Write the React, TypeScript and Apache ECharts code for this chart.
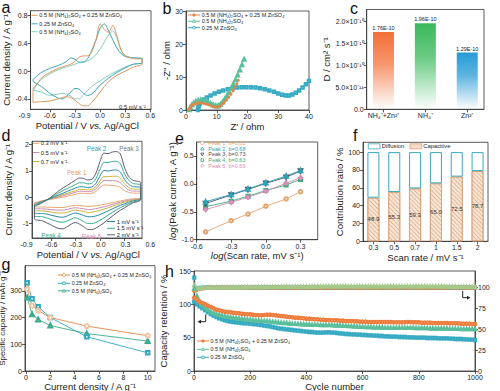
import React, { useEffect, useRef } from 'react';
import * as echarts from 'echarts';

const FONT = '"Liberation Sans", Arial, Helvetica, sans-serif';

// ---------------- Panel a : CV at 0.5 mV/s ----------------
const aUpV = [-0.8, -0.7, -0.6, -0.5, -0.4, -0.35, -0.3, -0.25, -0.2, -0.15, -0.1, -0.05, 0, 0.05, 0.1, 0.15, 0.2, 0.25, 0.3, 0.4, 0.5];
const aLoV = [0.5, 0.4, 0.3, 0.2, 0.1, 0.05, 0, -0.05, -0.1, -0.15, -0.2, -0.25, -0.3, -0.35, -0.4, -0.45, -0.5, -0.6, -0.7, -0.8];
const aMixUp = [-0.28, -0.1, -0.02, 0.04, 0.08, 0.1, 0.14, 0.2, 0.22, 0.22, 0.28, 0.45, 0.68, 0.6, 0.56, 0.66, 0.5, 0.3, 0.22, 0.18, 0.17];
const aMixLo = [0.1, 0.06, 0.0, -0.06, -0.15, -0.22, -0.3, -0.38, -0.45, -0.5, -0.5, -0.47, -0.42, -0.38, -0.37, -0.38, -0.4, -0.43, -0.44, -0.45];
const aZnUp = [-0.12, -0.02, 0.04, 0.08, 0.14, 0.19, 0.17, 0.13, 0.13, 0.18, 0.3, 0.45, 0.62, 0.68, 0.58, 0.45, 0.33, 0.25, 0.21, 0.19, 0.18];
const aZnLo = [0.12, 0.1, 0.05, -0.02, -0.1, -0.15, -0.2, -0.27, -0.33, -0.35, -0.32, -0.26, -0.25, -0.3, -0.36, -0.4, -0.39, -0.32, -0.22, -0.14];
const aNhUp = [-0.25, -0.12, -0.04, 0.02, 0.06, 0.08, 0.1, 0.12, 0.13, 0.15, 0.18, 0.24, 0.32, 0.42, 0.52, 0.58, 0.47, 0.3, 0.22, 0.19, 0.18];
const aNhLo = [0.12, 0.1, 0.06, 0.0, -0.06, -0.1, -0.14, -0.18, -0.22, -0.28, -0.34, -0.4, -0.4, -0.36, -0.33, -0.32, -0.33, -0.35, -0.3, -0.27];

// ---------------- Panel b : Nyquist ----------------
const bMixX = [0.9, 1.2, 1.6, 2.1, 2.7, 3.4, 4.1, 4.9, 5.7, 6.5, 7.3, 8.1, 8.9, 9.6, 10.2, 10.7, 11.2, 11.8, 12.5, 13.2, 13.9, 14.6, 15.3, 15.9, 16.5, 17.0];
const bMixY = [0.1, 0.6, 1.1, 1.5, 1.8, 2.0, 2.1, 2.1, 2.0, 1.8, 1.6, 1.3, 1.1, 0.9, 0.9, 1.0, 1.3, 1.8, 2.4, 3.1, 3.9, 4.8, 5.8, 6.8, 7.9, 9.0];
const bNhX = [1.0, 1.4, 1.9, 2.5, 3.2, 4.0, 4.8, 5.6, 6.4, 7.2, 8.0, 8.8, 9.5, 10.1, 10.6, 11.2, 11.9, 12.6, 13.3, 14.0, 14.7, 15.4, 16.1, 16.8, 17.5, 18.2, 18.9];
const bNhY = [0.1, 0.8, 1.5, 2.1, 2.6, 2.9, 3.0, 2.9, 2.7, 2.4, 2.0, 1.6, 1.3, 1.2, 1.3, 1.7, 2.4, 3.3, 4.3, 5.4, 6.6, 7.9, 9.2, 10.6, 12.1, 13.7, 15.4];
const bZnX = [3.9, 4.0, 4.2, 4.5, 5.0, 5.8, 6.8, 8.0, 9.3, 10.7, 12.1, 13.6, 15.1, 16.6, 18.1, 19.6, 21.1, 22.6, 24.1, 25.6, 27.1, 28.6, 30.0, 31.3, 32.4, 33.5, 34.6, 35.7, 36.8, 37.9, 39.0, 40.0];
const bZnY = [0.0, 0.7, 1.4, 2.0, 2.6, 3.2, 3.8, 4.4, 5.0, 5.5, 5.9, 6.3, 6.6, 6.8, 6.9, 6.9, 6.9, 6.8, 6.6, 6.3, 5.9, 5.5, 5.0, 4.6, 4.4, 4.4, 4.7, 5.2, 5.9, 6.8, 7.8, 8.8];

// ---------------- Panel c : diffusion coefficients ----------------
const cCats = ['NH₄⁺+Zn²⁺', 'NH₄⁺', 'Zn²⁺'];
const cValues = [1.76e-10, 1.96e-10, 1.29e-10];
const cColors = [[243, 112, 56], [58, 185, 92], [38, 155, 215]];
const cYTicks = [0, 5e-11, 1e-10, 1.5e-10, 2e-10];
const cYTickLabels = ['0.0', '5.0×10⁻¹¹', '1.0×10⁻¹⁰', '1.5×10⁻¹⁰', '2.0×10⁻¹⁰'];

// ---------------- Panel d : CV at various scan rates ----------------
const dUpV = [-0.8, -0.7, -0.6, -0.5, -0.4, -0.3, -0.25, -0.2, -0.15, -0.1, -0.05, 0, 0.05, 0.1, 0.15, 0.2, 0.25, 0.3, 0.35, 0.4, 0.5];
const dLoV = [0.5, 0.4, 0.3, 0.2, 0.1, 0, -0.1, -0.15, -0.2, -0.3, -0.4, -0.45, -0.5, -0.6, -0.7, -0.8];
const dRates = ['0.3 mV s⁻¹', '0.5 mV s⁻¹', '0.7 mV s⁻¹', '1 mV s⁻¹', '1.5 mV s⁻¹', '2 mV s⁻¹'];
const dColors = ['#e8a772', '#c98cb2', '#c9b43a', '#2a8aa6', '#3aae8e', '#5b5d70'];
const dUp03 = [-0.21, -0.13, -0.08, -0.02, 0.04, 0.11, 0.15, 0.15, 0.13, 0.15, 0.22, 0.36, 0.47, 0.46, 0.45, 0.43, 0.37, 0.26, 0.19, 0.16, 0.15];
const dLo03 = [-0.02, -0.06, -0.11, -0.17, -0.24, -0.3, -0.34, -0.35, -0.33, -0.31, -0.36, -0.39, -0.39, -0.38, -0.37, -0.37];
const dUp05 = [-0.24, -0.14, -0.06, 0.02, 0.1, 0.19, 0.23, 0.23, 0.21, 0.23, 0.31, 0.49, 0.64, 0.63, 0.63, 0.62, 0.56, 0.4, 0.29, 0.24, 0.22];
const dLo05 = [-0.03, -0.09, -0.15, -0.23, -0.32, -0.4, -0.46, -0.47, -0.44, -0.4, -0.46, -0.49, -0.49, -0.47, -0.44, -0.44];
const dUp07 = [-0.26, -0.15, -0.05, 0.05, 0.15, 0.25, 0.3, 0.3, 0.28, 0.3, 0.4, 0.62, 0.79, 0.78, 0.8, 0.8, 0.73, 0.52, 0.38, 0.32, 0.28];
const dLo07 = [-0.04, -0.11, -0.19, -0.29, -0.4, -0.5, -0.57, -0.58, -0.54, -0.49, -0.57, -0.6, -0.6, -0.56, -0.52, -0.52];
const dUp10 = [-0.29, -0.16, -0.04, 0.09, 0.22, 0.35, 0.4, 0.4, 0.37, 0.39, 0.52, 0.8, 1.02, 1.0, 1.03, 1.04, 0.96, 0.68, 0.5, 0.41, 0.36];
const dLo10 = [-0.05, -0.14, -0.25, -0.37, -0.52, -0.66, -0.74, -0.74, -0.69, -0.6, -0.71, -0.76, -0.75, -0.68, -0.62, -0.62];
const dUp15 = [-0.32, -0.18, -0.02, 0.17, 0.33, 0.48, 0.55, 0.55, 0.51, 0.53, 0.7, 1.05, 1.33, 1.32, 1.36, 1.37, 1.28, 0.9, 0.66, 0.53, 0.45];
const dLo15 = [-0.07, -0.18, -0.32, -0.48, -0.68, -0.88, -1.0, -1.0, -0.92, -0.78, -0.9, -0.95, -0.94, -0.84, -0.74, -0.72];
const dUp20 = [-0.35, -0.2, 0.0, 0.25, 0.45, 0.65, 0.73, 0.72, 0.66, 0.68, 0.9, 1.35, 1.68, 1.66, 1.72, 1.74, 1.65, 1.15, 0.8, 0.65, 0.55];
const dLo20 = [-0.08, -0.22, -0.4, -0.6, -0.85, -1.08, -1.23, -1.22, -1.12, -0.96, -1.12, -1.2, -1.19, -1.05, -0.9, -0.82];

// ---------------- Panel e : log(i) vs log(v) ----------------
const eX = [-0.523, -0.301, -0.155, 0, 0.176, 0.301];
const ePeakNames = ['Peak 1, b=0.82', 'Peak 2, b=0.68', 'Peak 3, b=0.73', 'Peak 4, b=0.63', 'Peak 5, b=0.69'];
const eColors = ['#e6a36c', '#2aa4b8', '#4a4f66', '#3aa87a', '#d88db5'];
const eP1 = [-0.86, -0.66, -0.54, -0.40, -0.27, -0.14];
const eP2 = [-0.32, -0.19, -0.09, 0.02, 0.14, 0.24];
const eP3 = [-0.35, -0.20, -0.10, 0.01, 0.12, 0.23];
const eP4 = [-0.41, -0.31, -0.22, -0.12, -0.02, 0.08];
const eP5 = [-0.46, -0.33, -0.24, -0.13, 0.01, 0.11];

// ---------------- Panel f : contribution ratio ----------------
const fCats = ['0.3', '0.5', '0.7', '1', '1.5', '2'];
const fCapacitive = [48.9, 55.3, 59.3, 65.0, 72.5, 78.7];
const fDiffusion = [51.1, 44.7, 40.7, 35.0, 27.5, 21.3];

// ---------------- Panel g : rate capability ----------------
const gX = [0.1, 0.5, 1, 2, 5, 10];
const gMix = [306, 245, 226, 200, 168, 132];
const gZn = [330, 270, 240, 200, 128, 68];
const gNh = [275, 212, 193, 170, 140, 112];

// ---------------- Panel h : cycling ----------------
const hCycles = Array.from({ length: 101 }, (_, i) => (i === 0 ? 1 : i * 10));
const hRetMix = [110,
  107, 104, 102, 100, 98, 96, 94, 92, 91, 90,
  89, 88.5, 88, 87.5, 87, 86.5, 86, 85.5, 85, 85,
  84.5, 84, 83.5, 83.5, 84, 84.5, 84.5, 84, 83.5, 83,
  82.5, 82, 81.5, 81, 80.5, 80, 80, 79.5, 79, 78.5,
  78.5, 78, 77.5, 77.5, 77, 77, 76.5, 76.5, 76, 76,
  76, 75.5, 75.5, 75, 75, 75, 74.5, 74.5, 74, 74,
  74, 73.5, 73.5, 73.5, 73.5, 73.5, 73.5, 73.5, 73.5, 73.5,
  73, 73, 73, 73, 73, 73.5, 73.5, 73, 73, 73,
  72.5, 72.5, 72.5, 72.5, 72, 72, 72, 72, 72, 72,
  71.5, 71.5, 71.5, 71.5, 71, 71, 71, 71, 70.5, 70.5];
const hRetNh = [124,
  113, 105, 99, 95, 92, 89, 87, 85.5, 84.5, 83.5,
  82.5, 81.5, 81, 80, 79.5, 79, 78.5, 78, 77.5, 77,
  76.5, 76, 76, 75.5, 75, 75, 74.5, 74, 73.5, 73,
  72.5, 72, 72, 71.5, 71, 71, 70.5, 70.5, 70, 70,
  70, 69.5, 69.5, 69.5, 69, 69, 69, 69, 69, 68.5,
  68.5, 68.5, 68, 68, 67.5, 67.5, 67, 67, 66.5, 66.5,
  66, 66, 66, 65.5, 65.5, 65.5, 65.5, 65, 65, 65,
  65, 65, 65, 65, 65, 65, 65, 65, 64.5, 64.5,
  64.5, 64.5, 64.5, 64, 64, 64, 64, 64, 64, 64,
  63.5, 63.5, 63.5, 63.5, 63, 63, 63, 63, 63, 63];
const hRetZn = [104,
  100, 97, 94, 91, 88, 85.5, 83, 81, 79, 77.5,
  76, 75, 74, 73.5, 73, 72.5, 72, 71.5, 71.5, 71,
  70.5, 70, 69.5, 69, 68, 67.5, 67, 66, 65, 64,
  63.5, 63, 62.5, 62, 61.5, 61, 60.5, 60, 59.5, 59,
  58.5, 58.5, 58, 57.5, 57.5, 57.5, 58, 58, 57.5, 57.5,
  57, 56.5, 56, 55.5, 55.5, 55, 55, 54.5, 54.5, 54,
  54, 53.5, 53.5, 53, 53, 52.5, 52.5, 52, 52, 51.5,
  51.5, 51.5, 51, 51, 51, 50.5, 50.5, 50.5, 50, 50,
  50, 50, 49.5, 49.5, 49.5, 49.5, 49, 49, 49, 49,
  48.5, 48.5, 48, 48, 48, 47.5, 47.5, 47, 47, 46.5];
const hCeMix = [96,
  97.5, 98.5, 99, 99.5, 99.8, 100, 100, 100, 100.2, 100,
  100, 100.2, 100, 99.8, 100, 100, 100.2, 100, 100, 100,
  100.2, 100, 100, 99.8, 100, 100, 100.2, 100, 100, 100,
  100, 100.2, 100, 100, 100, 99.8, 100, 100, 100.2, 100,
  100, 100, 100.2, 100, 100, 100, 100, 99.8, 100, 100,
  100.2, 100, 100, 100, 100, 100.2, 100, 100, 99.8, 100,
  100, 100, 100.2, 100, 100, 100, 100, 100.2, 100, 100,
  100, 99.8, 100, 100, 100.2, 100, 100, 100, 100, 100,
  100.2, 100, 100, 100, 99.8, 100, 100, 100.2, 100, 100,
  100, 100, 100.2, 100, 100, 100, 99.8, 100, 100, 100];
const hCeNh = [103,
  99, 99.5, 100, 100, 100, 100.2, 100, 100.2, 100, 100.3,
  100.3, 100.4, 100.3, 100.5, 100.4, 100.5, 100.6, 100.5, 100.6, 100.7,
  100.6, 100.7, 100.8, 100.7, 100.8, 100.8, 100.9, 100.8, 100.9, 101,
  100.9, 101, 101.1, 101, 101.1, 101.2, 101.1, 101.2, 101.2, 101.3,
  101.3, 101.4, 101.3, 101.4, 101.5, 101.4, 101.5, 101.5, 101.6, 101.5,
  101.6, 101.5, 101.6, 101.7, 101.6, 101.5, 101.6, 101.7, 101.6, 101.5,
  101.6, 101.5, 101.6, 101.7, 101.6, 101.5, 101.6, 101.5, 101.6, 101.7,
  101.6, 101.5, 101.6, 101.5, 101.6, 101.7, 101.6, 101.5, 101.6, 101.5,
  101.6, 101.7, 101.6, 101.5, 101.6, 101.5, 101.6, 101.5, 101.4, 101.3,
  101.3, 101.2, 101.2, 101.1, 101.1, 101, 101, 100.9, 100.9, 100.8];
const hCeZn = [112,
  99, 99.5, 99.8, 100, 100, 100, 99.8, 100, 100, 100,
  99.8, 100, 100, 100, 99.8, 100, 100, 100, 99.8, 100,
  100, 100, 99.8, 100, 100, 100, 99.8, 100, 100, 100,
  99.8, 100, 100, 100, 99.8, 100, 100, 100, 99.8, 100,
  100, 100, 99.8, 100, 100, 100, 99.8, 100, 100, 100,
  99.8, 100, 100, 100, 99.8, 100, 100, 100, 99.8, 100,
  100, 100, 99.8, 100, 100, 100, 99.8, 100, 100, 100,
  99.8, 100, 100, 100, 99.8, 100, 100, 100, 99.8, 100,
  100, 100, 99.8, 100, 100, 100, 99.8, 100, 100, 100,
  99.8, 100, 100, 100, 99.8, 100, 100, 100, 99.8, 100];

const ORANGE = '#e2874a';
const GREEN = '#5cbf9c';
const TEAL = '#36aac2';
const NAME_MIX = '0.5 M (NH₄)₂SO₄ + 0.25 M ZnSO₄';
const NAME_ZN = '0.25 M ZnSO₄';
const NAME_NH = '0.5 M (NH₄)₂SO₄';

const zip = (xs: number[], ys: number[]) => xs.map((x, i) => [x, ys[i]]);
const loop = (uv: number[], u: number[], lv: number[], l: number[]) => {
  const pts = zip(uv, u).concat(zip(lv, l));
  pts.push(pts[0]);
  return pts;
};

// ---------- graphic helpers ----------
function textEl(x: number, y: number, text: string, size: number, color = '#222', align = 'left') {
  return {
    type: 'text', x, y, z: 100, silent: true,
    style: { text, fill: color, fontSize: size, fontFamily: FONT, align, textAlign: align, verticalAlign: 'middle', textVerticalAlign: 'middle' },
  };
}
function symbolEl(sym: string, cx: number, cy: number, r: number, color: string) {
  const style = { fill: '#fff', stroke: color, lineWidth: 0.8 };
  if (sym === 'circle') return { type: 'circle', z: 100, shape: { cx, cy, r }, style };
  if (sym === 'dot') return { type: 'circle', z: 100, shape: { cx, cy, r }, style: { fill: color, stroke: color, lineWidth: 0.6 } };
  if (sym === 'triangle') return { type: 'polygon', z: 100, shape: { points: [[cx, cy - r], [cx + r, cy + r * 0.8], [cx - r, cy + r * 0.8]] }, style };
  if (sym === 'tridown') return { type: 'polygon', z: 100, shape: { points: [[cx, cy + r], [cx + r, cy - r * 0.8], [cx - r, cy - r * 0.8]] }, style };
  if (sym === 'square') return { type: 'rect', z: 100, shape: { x: cx - r * 0.85, y: cy - r * 0.85, width: r * 1.7, height: r * 1.7 }, style };
  if (sym === 'diamond') return { type: 'polygon', z: 100, shape: { points: [[cx, cy - r], [cx + r, cy], [cx, cy + r], [cx - r, cy]] }, style };
  return null;
}
function legendRow(x: number, y: number, len: number, color: string, label: string, sym: string, size: number, textX: number, textColor = '#222', r = 1.8) {
  const els: any[] = [];
  if (len > 0) els.push({ type: 'line', z: 100, shape: { x1: x, y1: y, x2: x + len, y2: y }, style: { stroke: color, lineWidth: 1 } });
  const s = symbolEl(sym, x + len / 2, y, r, color);
  if (s) els.push(s);
  els.push(textEl(textX, y, label, size, textColor));
  return els;
}

// ---------- axis helper ----------
function vAxis(o: any) {
  return {
    type: 'value',
    gridIndex: o.grid,
    min: o.min,
    max: o.max,
    show: o.show !== false,
    position: o.position,
    name: o.name,
    nameLocation: 'middle',
    nameGap: o.nameGap,
    nameTextStyle: { fontSize: o.nameSize || 9.5, fontFamily: FONT, color: '#222', rich: o.rich },
    axisLine: { show: true, onZero: false, lineStyle: { color: '#333', width: 0.8 } },
    axisTick: {
      show: !!o.ticks,
      length: 3,
      customValues: o.ticks || undefined,
      lineStyle: { color: '#333', width: 0.8 },
    },
    axisLabel: {
      show: !!o.labels,
      customValues: o.labels || undefined,
      formatter: o.fmt || ((v: number) => String(v)),
      fontSize: 7,
      color: '#222',
      fontFamily: FONT,
      margin: 3,
    },
    splitLine: { show: false },
  };
}

const gridBox = (left: number, top: number, width: number, height: number, show = true) => ({
  left, top, width, height, show, borderColor: '#333', borderWidth: 0.8, backgroundColor: 'transparent', containLabel: false, outerBoundsMode: 'none',
});

const fx1 = (v: number) => v.toFixed(1);
const nameRich = {
  n: { fontSize: 9.5, fontFamily: FONT, color: '#222' },
  i: { fontSize: 9.5, fontFamily: FONT, color: '#222', fontStyle: 'italic' },
};

function buildOption() {
  const grad = (c: number[]) =>
    new echarts.graphic.LinearGradient(0, 0, 0, 1, [
      { offset: 0, color: `rgba(${c[0]},${c[1]},${c[2]},1)` },
      { offset: 0.4, color: `rgba(${c[0]},${c[1]},${c[2]},0.75)` },
      { offset: 1, color: `rgba(${c[0]},${c[1]},${c[2]},0)` },
    ]);

  const grid = [
    gridBox(30.5, 10.7, 120.5, 98.6), // 0 a
    gridBox(24.6, 10.7, 125.7, 98.6, false), // 1 a labels
    gridBox(186, 11, 123, 99), // 2 b
    gridBox(366.7, 9.5, 117.3, 99.8), // 3 c
    gridBox(32, 141.3, 110, 96.7), // 4 d
    gridBox(26.5, 141.3, 123.8, 96.7, false), // 5 d labels
    gridBox(196.7, 142, 121, 97.7), // 6 e
    gridBox(363, 142.3, 125, 99), // 7 f
    gridBox(25, 265.7, 130, 105.3), // 8 g
    gridBox(194, 271, 281, 100), // 9 h
  ];

  const hiddenLine = { show: false, onZero: false };
  const xAxis: any[] = [
    vAxis({ grid: 0, min: -0.83, max: 0.605, ticks: [-0.6, -0.3, 0, 0.3, 0.6] }),
    { ...vAxis({ grid: 1, min: -0.9, max: 0.6, labels: [-0.9, -0.6, -0.3, 0, 0.3, 0.6], fmt: fx1, name: '{n|Potential / V }{i|vs.}{n| Ag/AgCl}', nameGap: 8, rich: nameRich }), axisLine: hiddenLine },
    vAxis({ grid: 2, min: 0, max: 40, ticks: [0, 10, 20, 30, 40], labels: [0, 10, 20, 30, 40], name: "Z' / ohm", nameGap: 11 }),
    vAxis({ grid: 3, min: -0.4, max: 2.4, ticks: [0, 1, 2], labels: [0, 1, 2], fmt: (v: number) => cCats[Math.round(v)] }),
    vAxis({ grid: 4, min: -0.83, max: 0.515, ticks: [-0.6, -0.3, 0, 0.3] }),
    { ...vAxis({ grid: 5, min: -0.9, max: 0.6, labels: [-0.9, -0.6, -0.3, 0, 0.3, 0.6], fmt: fx1, name: '{n|Potential / V }{i|vs.}{n| Ag/AgCl}', nameGap: 11, rich: nameRich }), axisLine: hiddenLine },
    vAxis({ grid: 6, min: -0.6, max: 0.45, ticks: [-0.6, -0.3, 0, 0.3], labels: [-0.6, -0.3, 0, 0.3], fmt: fx1, name: '{i|log}{n|(Scan rate, mV s⁻¹)}', nameGap: 10, rich: nameRich }),
    {
      type: 'category', gridIndex: 7, data: fCats,
      name: 'Scan rate / mV s⁻¹', nameLocation: 'middle', nameGap: 10.5,
      nameTextStyle: { fontSize: 9.5, fontFamily: FONT, color: '#222' },
      axisLine: { show: true, onZero: false, lineStyle: { color: '#333', width: 0.8 } },
      axisTick: { show: true, alignWithLabel: true, length: 3, lineStyle: { color: '#333', width: 0.8 } },
      axisLabel: { fontSize: 7, color: '#222', fontFamily: FONT, margin: 3 },
      splitLine: { show: false },
    },
    vAxis({ grid: 8, min: -0.08, max: 10.6, ticks: [0, 2, 4, 6, 8, 10], labels: [0, 2, 4, 6, 8, 10], name: 'Current density / A g⁻¹', nameGap: 7 }),
    vAxis({ grid: 9, min: 0, max: 1000, ticks: [0, 200, 400, 600, 800, 1000], labels: [0, 200, 400, 600, 800, 1000], name: 'Cycle number', nameGap: 6 }),
  ];

  const yAxis: any[] = [
    vAxis({ grid: 0, min: -0.55, max: 0.87, ticks: [-0.4, 0, 0.4, 0.8], labels: [-0.4, 0, 0.4, 0.8], fmt: fx1, name: 'Current density / A g⁻¹', nameGap: 17 }),
    { ...vAxis({ grid: 1, min: 0, max: 1, show: false }), axisLine: hiddenLine },
    vAxis({ grid: 2, min: 0, max: 30, ticks: [0, 10, 20, 30], labels: [0, 10, 20, 30], name: "-Z'' / ohm", nameGap: 9 }),
    vAxis({
      grid: 3, min: 0, max: 2.27e-10, ticks: cYTicks, labels: cYTicks,
      fmt: (v: number) => { const i = cYTicks.findIndex((t) => Math.abs(t - v) < 1e-14); return i >= 0 ? cYTickLabels[i] : ''; },
      name: 'D / cm² s⁻¹', nameGap: 35,
    }),
    vAxis({ grid: 4, min: -1.55, max: 2.13, ticks: [-1, 0, 1, 2], labels: [-1, 0, 1, 2], name: 'Current density / A g⁻¹', nameGap: 18.5 }),
    { ...vAxis({ grid: 5, min: 0, max: 1, show: false }), axisLine: hiddenLine },
    vAxis({ grid: 6, min: -1.0, max: 0.75, ticks: [-1, -0.5, 0, 0.5], labels: [-1, -0.5, 0, 0.5], fmt: fx1, name: '{i|log}{n|(Peak current, A g⁻¹)}', nameGap: 19.5, rich: nameRich }),
    vAxis({ grid: 7, min: 0, max: 111, ticks: [0, 20, 40, 60, 80, 100], labels: [0, 20, 40, 60, 80, 100], name: 'Contribution ratio / %', nameGap: 18 }),
    vAxis({ grid: 8, min: 0, max: 394, ticks: [0, 100, 200, 300], labels: [0, 100, 200, 300], name: 'Specific capacity / mAh g⁻¹', nameGap: 7.5, nameSize: 8 }),
    vAxis({ grid: 9, min: 0, max: 150, ticks: [0, 50, 100, 150], labels: [0, 50, 100, 150], name: 'Capacity retention / %', nameGap: 17 }),
    vAxis({ grid: 9, min: 0, max: 120, position: 'right', ticks: [0, 25, 50, 75, 100], labels: [0, 25, 50, 75, 100], name: 'Coulombic efficiency / %', nameGap: 8.5, nameSize: 8 }),
  ];

  const line = (xi: number, yi: number, data: any[], color: string, extra: any = {}) => ({
    type: 'line', xAxisIndex: xi, yAxisIndex: yi, data, showSymbol: false, symbol: 'none',
    lineStyle: { color, width: 1 }, itemStyle: { color }, silent: true, ...extra,
  });
  const marked = (xi: number, yi: number, data: any[], color: string, symbol: string, size: number, lw = 0.9, bw = 0.7, fill?: string, extra: any = {}) => ({
    type: 'line', xAxisIndex: xi, yAxisIndex: yi, data, symbol, symbolSize: size, showSymbol: true,
    lineStyle: { color, width: lw },
    itemStyle: { color: fill || color, borderColor: color, borderWidth: bw },
    silent: true, ...extra,
  });

  const series: any[] = [
    // a
    line(0, 0, loop(aUpV, aNhUp, aLoV, aNhLo), '#86cfbc', { smooth: 0.3 }),
    line(0, 0, loop(aUpV, aZnUp, aLoV, aZnLo), '#3aa6b8', { smooth: 0.3 }),
    line(0, 0, loop(aUpV, aMixUp, aLoV, aMixLo), '#dc9760', { smooth: 0.3 }),
    // b
    marked(2, 2, zip(bZnX, bZnY), TEAL, 'emptyRect', 2.5, 0.7),
    marked(2, 2, zip(bNhX, bNhY), GREEN, 'emptyTriangle', 3, 0.7),
    marked(2, 2, zip(bMixX, bMixY), ORANGE, 'circle', 2.5, 0.7),
    // c
    {
      type: 'bar', xAxisIndex: 3, yAxisIndex: 3, barWidth: 21, silent: true,
      data: cValues.map((v, i) => ({ value: [i, v], itemStyle: { color: grad(cColors[i]) } })),
      label: {
        show: true, position: 'top', distance: 1, fontSize: 5.5, fontFamily: FONT, color: '#222',
        formatter: (p: any) => Number(p.value[1]).toExponential(2).toUpperCase(),
      },
    },
    // d
    line(4, 4, loop(dUpV, dUp03, dLoV, dLo03), dColors[0], { smooth: 0.3 }),
    line(4, 4, loop(dUpV, dUp05, dLoV, dLo05), dColors[1], { smooth: 0.3 }),
    line(4, 4, loop(dUpV, dUp07, dLoV, dLo07), dColors[2], { smooth: 0.3 }),
    line(4, 4, loop(dUpV, dUp10, dLoV, dLo10), dColors[3], { smooth: 0.3 }),
    line(4, 4, loop(dUpV, dUp15, dLoV, dLo15), dColors[4], { smooth: 0.3 }),
    line(4, 4, loop(dUpV, dUp20, dLoV, dLo20), dColors[5], { smooth: 0.3 }),
    // e
    marked(6, 6, zip(eX, eP1), eColors[0], 'emptyCircle', 3.5),
    marked(6, 6, zip(eX, eP4), eColors[3], 'emptyRect', 3),
    marked(6, 6, zip(eX, eP5), eColors[4], 'emptyDiamond', 3.5),
    marked(6, 6, zip(eX, eP3), eColors[2], 'emptyTriangle', 3.5, 0.9, 0.7, undefined, { symbolRotate: 180 }),
    marked(6, 6, zip(eX, eP2), eColors[1], 'emptyTriangle', 3.5),
    // f
    {
      type: 'bar', xAxisIndex: 7, yAxisIndex: 7, stack: 'f', barWidth: 12, silent: true, name: 'Capacitive',
      data: fCapacitive,
      itemStyle: {
        color: '#fbe7d6', borderColor: '#d6a27a', borderWidth: 0.8,
        decal: { symbol: 'rect', symbolSize: 1, color: 'rgba(200,145,105,0.55)', dashArrayX: [1, 0], dashArrayY: [1, 2], rotation: Math.PI / 4 },
      },
      label: { show: true, position: 'inside', fontSize: 6, fontFamily: FONT, color: '#333', formatter: (p: any) => Number(p.value).toFixed(1) },
    },
    {
      type: 'bar', xAxisIndex: 7, yAxisIndex: 7, stack: 'f', barWidth: 12, silent: true, name: 'Diffusion',
      data: fDiffusion,
      itemStyle: { color: '#ffffff', borderColor: '#3aa9bd', borderWidth: 1 },
    },
    // g
    marked(8, 8, zip(gX, gNh), '#3aaa8c', 'emptyTriangle', 4),
    marked(8, 8, zip(gX, gZn), '#33a8be', 'emptyRect', 3.5),
    marked(8, 8, zip(gX, gMix), ORANGE, 'emptyCircle', 4, 0.9, 0.8, '#f3c3a0'),
    // h CE (right axis)
    marked(9, 10, zip(hCycles, hCeZn), TEAL, 'emptyRect', 2.2, 0.4, 0.5),
    marked(9, 10, zip(hCycles, hCeMix), ORANGE, 'emptyCircle', 2.4, 0.4, 0.5),
    marked(9, 10, zip(hCycles, hCeNh), '#a6c98a', 'emptyTriangle', 2.4, 0.4, 0.5),
    // h retention (left axis)
    marked(9, 9, zip(hCycles, hRetZn), TEAL, 'emptyRect', 2.4, 0.5, 0.6),
    marked(9, 9, zip(hCycles, hRetNh), GREEN, 'emptyTriangle', 2.6, 0.5, 0.6),
    marked(9, 9, zip(hCycles, hRetMix), '#ee7c3c', 'emptyCircle', 2.6, 0.5, 0.6),
  ];

  const els: any[] = [];
  // panel letters
  const letter = (x: number, y: number, t: string) => els.push({
    type: 'text', x, y, z: 100, silent: true,
    style: { text: t, fill: '#111', fontSize: 16, fontFamily: FONT, align: 'left', textAlign: 'left', verticalAlign: 'middle', textVerticalAlign: 'middle' },
  });
  letter(1.5, 7, 'a');
  letter(162.5, 8.5, 'b');
  letter(350, 8.5, 'c');
  letter(1.5, 135, 'd');
  letter(175, 138.2, 'e');
  letter(353, 135, 'f');
  letter(1.5, 264.2, 'g');
  letter(165, 271, 'h');

  // legend a
  els.push(...legendRow(31.5, 15.3, 6, '#dc9760', NAME_MIX, 'none', 5.5, 39.3));
  els.push(...legendRow(31.5, 23.8, 6, '#3aa6b8', NAME_ZN, 'none', 5.5, 39.3));
  els.push(...legendRow(31.5, 31.7, 6, '#86cfbc', NAME_NH, 'none', 5.5, 39.3));
  els.push(textEl(132.5, 106.5, '0.5 mV s⁻¹', 5.8, '#222', 'center'));

  // legend b
  els.push(...legendRow(188, 15, 12, ORANGE, NAME_MIX, 'dot', 5.5, 201.7, '#222', 1.3));
  els.push(...legendRow(188, 21.2, 12, GREEN, NAME_NH, 'triangle', 5.5, 201.7, '#222', 1.5));
  els.push(...legendRow(188, 27.6, 12, TEAL, NAME_ZN, 'square', 5.5, 201.7, '#222', 1.4));

  // legend d
  els.push(...legendRow(33, 143.3, 6.5, dColors[0], dRates[0], 'none', 5.8, 40.7));
  els.push(...legendRow(33, 152.5, 6.5, dColors[1], dRates[1], 'none', 5.8, 40.7));
  els.push(...legendRow(33, 161.5, 6.5, dColors[2], dRates[2], 'none', 5.8, 40.7));
  els.push(...legendRow(107, 221.5, 8, dColors[3], dRates[3], 'none', 5.8, 116.7));
  els.push(...legendRow(107, 228.3, 8, dColors[4], dRates[4], 'none', 5.8, 116.7));
  els.push(...legendRow(107, 234.8, 8, dColors[5], dRates[5], 'none', 5.8, 116.7));
  els.push(textEl(76.7, 172.3, 'Peak 1', 6.3, '#d9a27a', 'center'));
  els.push(textEl(96.5, 148.8, 'Peak 2', 6.3, '#2aa4b8', 'center'));
  els.push(textEl(129, 148.8, 'Peak 3', 6.3, '#777', 'center'));
  els.push(textEl(51, 235.2, 'Peak 4', 6.3, '#3aaa82', 'center'));
  els.push(textEl(91.5, 236, 'Peak 5', 6.3, '#d88db5', 'center'));

  // legend e
  const eSyms = ['circle', 'triangle', 'tridown', 'square', 'diamond'];
  const eYs = [143, 148.7, 154.4, 160.1, 165.7];
  for (let i = 0; i < 5; i++) els.push(...legendRow(202.3, eYs[i], 0, eColors[i], ePeakNames[i], eSyms[i], 5.5, 208.3, eColors[i], 1.6));

  // legend f
  els.push({ type: 'rect', z: 100, shape: { x: 368.3, y: 143.8, width: 11.7, height: 5 }, style: { fill: '#fff', stroke: '#3aa9bd', lineWidth: 0.8 } });
  els.push(textEl(381.7, 146.3, 'Diffusion', 5.8));
  els.push({
    type: 'rect', z: 100, shape: { x: 410, y: 143.8, width: 11.7, height: 5 },
    style: { fill: '#f6dcc6', stroke: '#d6a27a', lineWidth: 0.8 },
  });
  els.push(textEl(423.3, 146.3, 'Capacitive', 5.8));

  // legend g
  els.push(...legendRow(58, 275, 12, ORANGE, NAME_MIX, 'circle', 5.3, 71.7, '#222', 1.6));
  els.push(...legendRow(58, 283.3, 12, '#33a8be', NAME_ZN, 'square', 5.3, 71.7, '#222', 1.5));
  els.push(...legendRow(58, 290.8, 12, '#3aaa8c', NAME_NH, 'triangle', 5.3, 71.7, '#222', 1.6));

  // legend h
  els.push(...legendRow(197, 341, 12, '#ee7c3c', NAME_MIX, 'dot', 5.3, 210.5, '#222', 1.3));
  els.push(...legendRow(197, 349.3, 12, GREEN, NAME_NH, 'triangle', 5.3, 210.5, '#222', 1.5));
  els.push(...legendRow(197, 357.3, 12, TEAL, NAME_ZN, 'square', 5.3, 210.5, '#222', 1.4));

  // arrows in h
  els.push({ type: 'polyline', z: 100, shape: { points: [[205.7, 314.5], [205.7, 321.7], [200.5, 321.7]] }, style: { stroke: '#222', lineWidth: 1, fill: 'none' } });
  els.push({ type: 'polygon', z: 100, shape: { points: [[197.5, 321.7], [201, 319.8], [201, 323.6]] }, style: { fill: '#222' } });
  els.push({ type: 'polyline', z: 100, shape: { points: [[462.7, 291], [462.7, 297.7], [467.5, 297.7]] }, style: { stroke: '#222', lineWidth: 1, fill: 'none' } });
  els.push({ type: 'polygon', z: 100, shape: { points: [[470.5, 297.7], [467, 295.8], [467, 299.6]] }, style: { fill: '#222' } });

  return {
    animation: false,
    backgroundColor: '#ffffff',
    textStyle: { fontFamily: FONT },
    grid,
    xAxis,
    yAxis,
    series,
    graphic: { elements: els },
  };
}

export default function App() {
  const ref = useRef<HTMLDivElement>(null);
  useEffect(() => {
    document.body.style.margin = '0';
    const chart = echarts.init(ref.current as HTMLDivElement, null, { renderer: 'svg' });
    chart.setOption(buildOption() as any);
    return () => chart.dispose();
  }, []);
  return <div ref={ref} style={{ width: 500, height: 391 }} />;
}
